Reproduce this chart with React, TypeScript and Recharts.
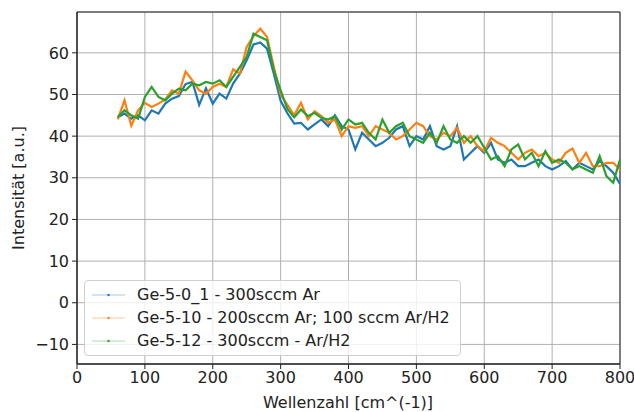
import React from "react";
import {
  CartesianGrid,
  Label,
  Line,
  LineChart,
  ReferenceArea,
  XAxis,
  YAxis,
} from "recharts";

const wavenumbers = [
  60, 70, 80, 90, 100, 110, 120, 130, 140, 150, 160, 170, 180, 190, 200, 210,
  220, 230, 240, 250, 260, 270, 280, 290, 300, 310, 320, 330, 340, 350, 360,
  370, 380, 390, 400, 410, 420, 430, 440, 450, 460, 470, 480, 490, 500, 510,
  520, 530, 540, 550, 560, 570, 580, 590, 600, 610, 620, 630, 640, 650, 660,
  670, 680, 690, 700, 710, 720, 730, 740, 750, 760, 770, 780, 790, 800,
];

const ge50 = [
  44.5, 45.4, 44.2, 45.0, 43.8, 46.2, 45.4, 47.8, 49.0, 49.6, 52.5, 53.0, 47.5,
  51.5, 47.8, 50.2, 49.0, 52.6, 55.0, 58.2, 62.0, 62.5, 61.0, 55.0, 48.5, 45.5,
  43.0, 43.2, 41.6, 42.8, 44.0, 42.4, 45.0, 42.4, 41.6, 36.8, 40.8, 39.2, 37.6,
  38.4, 39.6, 41.6, 42.4, 37.6, 40.0, 39.2, 42.4, 37.6, 36.8, 37.6, 42.4, 34.4,
  36.0, 37.6, 36.0, 38.4, 34.4, 33.6, 34.4, 32.8, 32.8, 33.6, 34.4, 32.8, 32.0,
  32.8, 34.0, 32.0, 33.6, 32.8, 32.0, 34.0, 32.8, 31.2, 28.5,
];

const ge510 = [
  44.0, 48.6, 42.5, 46.2, 48.0, 47.0, 47.8, 48.8, 51.0, 50.2, 55.5, 53.4, 51.0,
  50.2, 51.8, 52.6, 51.8, 56.0, 55.0, 61.4, 64.0, 65.8, 63.8, 56.6, 50.0, 47.5,
  45.0, 48.0, 44.0, 46.0, 44.8, 43.2, 44.0, 40.0, 42.4, 42.0, 42.4, 40.0, 42.4,
  41.6, 40.8, 39.2, 40.0, 41.6, 43.2, 42.4, 40.0, 39.2, 40.8, 40.0, 42.0, 38.4,
  40.0, 37.6, 36.4, 39.6, 38.4, 37.6, 36.0, 34.4, 36.0, 36.8, 35.2, 36.0, 34.4,
  33.6, 36.0, 37.0, 33.6, 36.0, 32.8, 32.8, 33.6, 33.6, 32.0,
];

const ge512 = [
  44.6, 46.2, 45.0, 44.2, 49.4, 51.8, 49.4, 48.6, 50.2, 51.4, 51.0, 52.6, 52.2,
  53.0, 52.6, 53.4, 51.8, 54.2, 56.6, 59.0, 64.6, 63.8, 63.0, 55.8, 51.0, 46.5,
  44.5, 46.4, 44.8, 45.6, 44.4, 44.0, 44.8, 41.6, 44.0, 42.8, 43.2, 40.8, 39.2,
  44.0, 40.8, 42.4, 43.2, 40.0, 39.2, 38.4, 40.8, 38.4, 42.4, 39.2, 38.4, 40.0,
  38.4, 40.0, 37.2, 34.4, 35.2, 32.8, 36.8, 38.0, 34.4, 36.0, 32.8, 36.4, 33.6,
  34.4, 33.6, 32.0, 32.8, 32.0, 31.2, 35.2, 30.4, 28.8, 34.4,
];

const seriesNames = [
  "Ge-5-0_1 - 300sccm Ar",
  "Ge-5-10 - 200sccm Ar; 100 sccm Ar/H2",
  "Ge-5-12 - 300sccm - Ar/H2",
];
const colors = ["#1f77b4", "#ff7f0e", "#2ca02c"];

const xTicks = [0, 100, 200, 300, 400, 500, 600, 700, 800];
const yTicks = [-10, 0, 10, 20, 30, 40, 50, 60];

const data = wavenumbers.map((w, i) => ({
  w,
  a: ge50[i],
  b: ge510[i],
  c: ge512[i],
}));

const font = "'DejaVu Sans', sans-serif";
const fs = 16;
const tickStyle = { fontSize: fs, fill: "#222", fontFamily: font };

export default function App() {
  return (
    <div
      style={{
        position: "absolute",
        left: 0,
        top: 0,
        width: 634,
        height: 412,
        background: "#fff",
        fontFamily: font,
      }}
    >
      <LineChart
        width={634}
        height={412}
        data={data}
        margin={{ top: 12, right: 14, left: 0, bottom: 0 }}
      >
        <CartesianGrid stroke="#b0b0b0" strokeWidth={1} />
        <XAxis
          dataKey="w"
          type="number"
          domain={[0, 800]}
          ticks={xTicks}
          allowDataOverflow
          height={48}
          tickSize={5}
          tickMargin={3}
          stroke="#222"
          tick={tickStyle}
        >
          <Label
            content={() => (
              <text
                x={348}
                y={408}
                textAnchor="middle"
                style={{ fontSize: fs, fill: "#222", fontFamily: font }}
              >
                Wellenzahl [cm^(-1)]
              </text>
            )}
          />
        </XAxis>
        <YAxis
          type="number"
          domain={[-14.7, 69.8]}
          ticks={yTicks}
          allowDataOverflow
          width={77}
          tickSize={5}
          tickMargin={3}
          stroke="#222"
          tick={tickStyle}
          tickFormatter={(v: number) => (v < 0 ? `\u2212${Math.abs(v)}` : `${v}`)}
        >
          <Label
            content={() => (
              <text
                x={18}
                y={188}
                transform="rotate(-90 18 188)"
                textAnchor="middle"
                dominantBaseline="central"
                style={{ fontSize: fs, fill: "#222", fontFamily: font }}
              >
                Intensität [a.u.]
              </text>
            )}
          />
        </YAxis>
        <Line
          dataKey="a"
          stroke={colors[0]}
          strokeWidth={2.2}
          dot={false}
          isAnimationActive={false}
        />
        <Line
          dataKey="b"
          stroke={colors[1]}
          strokeWidth={2.2}
          dot={false}
          isAnimationActive={false}
        />
        <Line
          dataKey="c"
          stroke={colors[2]}
          strokeWidth={2.2}
          dot={false}
          isAnimationActive={false}
        />
        <ReferenceArea
          x1={0}
          x2={800}
          y1={-14.7}
          y2={69.8}
          fill="none"
          stroke="#222"
          strokeWidth={1}
          ifOverflow="visible"
        />
      </LineChart>
      <div
        style={{
          position: "absolute",
          left: 84,
          top: 280,
          width: 377,
          height: 76,
          border: "1px solid #d0d0d0",
          borderRadius: 4,
          background: "rgba(255,255,255,0.8)",
          boxSizing: "border-box",
          paddingTop: 2,
        }}
      >
        {seriesNames.map((name, i) => (
          <div
            key={name}
            style={{
              display: "flex",
              alignItems: "center",
              height: 23,
              fontSize: fs,
              color: "#222",
              whiteSpace: "nowrap",
            }}
          >
            <svg width={52} height={10} style={{ flex: "none" }}>
              <line
                x1={7}
                x2={40}
                y1={5}
                y2={5}
                stroke={colors[i]}
                strokeOpacity={0.4}
                strokeWidth={1}
              />
              <circle cx={23.5} cy={5} r={1.2} fill={colors[i]} />
            </svg>
            <span>{name}</span>
          </div>
        ))}
      </div>
    </div>
  );
}
